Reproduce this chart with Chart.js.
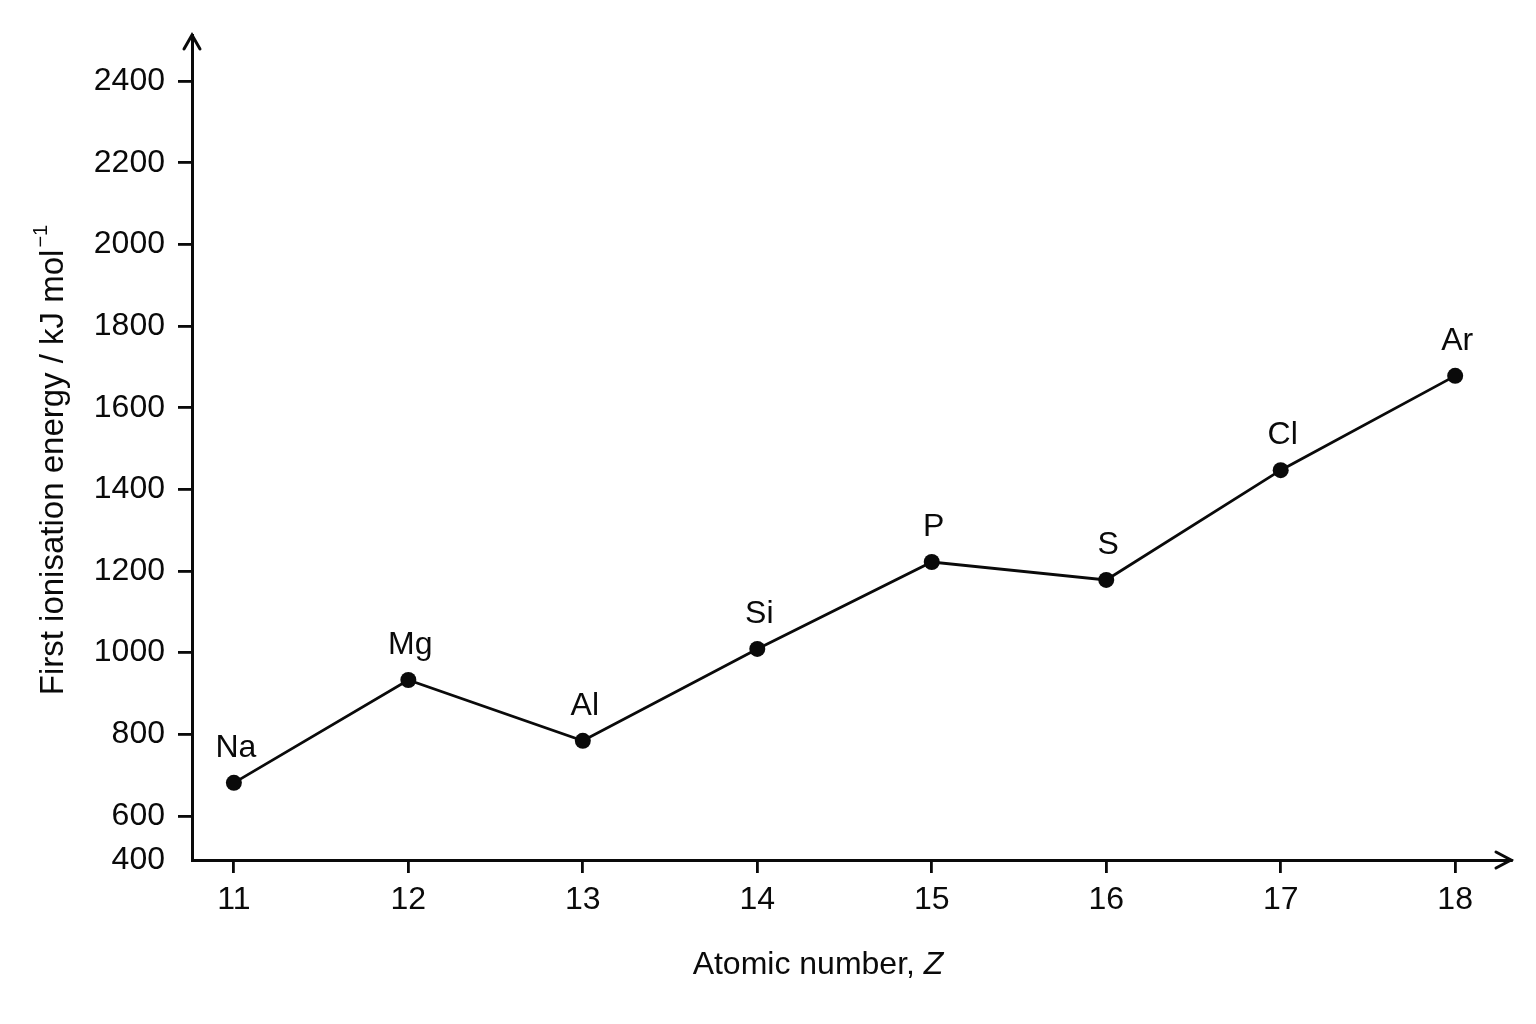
<!DOCTYPE html>
<html>
<head>
<meta charset="utf-8">
<title>First ionisation energy</title>
<script src="https://cdn.jsdelivr.net/npm/chart.js@4"></script>
<style>
  body { margin: 0; background: #fff; }
  #Graph1 { display: block; }
</style>
</head>
<body>
<canvas id="Graph1" width="1536" height="1024"></canvas>
<script>
// data
const atomicNumbers = [11, 12, 13, 14, 15, 16, 17, 18];
const symbols = ['Na', 'Mg', 'Al', 'Si', 'P', 'S', 'Cl', 'Ar'];
const energies = [681, 933, 784, 1009, 1222, 1178, 1447, 1678];

// y axis is broken: "400" sits at the origin, the scale is linear from 600 up
const yTickValues = [600, 800, 1000, 1200, 1400, 1600, 1800, 2000, 2200, 2400];
const yTickLabels = ['400', '600', '800', '1000', '1200', '1400', '1600', '1800', '2000', '2200', '2400'];
const yAxisMin = 492;
const yAxisMax = 2513;
const xAxisMin = 10.76;
const xAxisMax = 18.32;

const ink = '#0a0a0a';
const fontFamily = '"Liberation Sans", Arial, sans-serif';

Chart.defaults.font.family = fontFamily;
Chart.defaults.color = ink;

let points = [];
atomicNumbers.forEach((z, i) => points.push({ x: z, y: energies[i] }));

// symbols above each point
const pointLabels = {
    id: 'pointLabels',
    afterDatasetsDraw(chart) {
        const ctx = chart.ctx;
        ctx.save();
        ctx.font = '32px ' + fontFamily;
        ctx.fillStyle = ink;
        ctx.textAlign = 'center';
        ctx.textBaseline = 'middle';
        chart.getDatasetMeta(0).data.forEach((el, i) => {
            ctx.fillText(symbols[i], el.x + 2, el.y - 35);
        });
        ctx.restore();
    }
};

// arrow heads and axis titles
const axisExtras = {
    id: 'axisExtras',
    afterDraw(chart) {
        const ctx = chart.ctx;
        const a = chart.chartArea;
        ctx.save();
        ctx.strokeStyle = ink;
        ctx.lineWidth = 3;
        ctx.lineCap = 'round';
        ctx.lineJoin = 'miter';

        ctx.beginPath();
        ctx.moveTo(a.left - 8, a.top + 14);
        ctx.lineTo(a.left, a.top);
        ctx.lineTo(a.left + 8, a.top + 14);
        ctx.stroke();

        ctx.beginPath();
        ctx.moveTo(a.right - 15, a.bottom - 8);
        ctx.lineTo(a.right, a.bottom);
        ctx.lineTo(a.right - 15, a.bottom + 8);
        ctx.stroke();

        // x title with italic Z
        ctx.fillStyle = ink;
        ctx.textBaseline = 'middle';
        ctx.textAlign = 'left';
        const normal = '32px ' + fontFamily;
        const italic = 'italic 32px ' + fontFamily;
        ctx.font = normal;
        const w1 = ctx.measureText('Atomic number, ').width;
        ctx.font = italic;
        const w2 = ctx.measureText('Z').width;
        let x0 = 818 - (w1 + w2) / 2;
        ctx.font = normal;
        ctx.fillText('Atomic number, ', x0, 965);
        ctx.font = italic;
        ctx.fillText('Z', x0 + w1, 965);

        // y title, rotated, with superscript
        const titleFont = '33px ' + fontFamily;
        const supFont = '20px ' + fontFamily;
        ctx.translate(63, 460);
        ctx.rotate(-Math.PI / 2);
        ctx.textBaseline = 'alphabetic';
        const main = 'First ionisation energy / kJ mol';
        const sup = '\u22121';
        ctx.font = titleFont;
        const m1 = ctx.measureText(main).width;
        ctx.font = supFont;
        const m2 = ctx.measureText(sup).width;
        let y0 = -(m1 + m2 + 2) / 2;
        ctx.font = titleFont;
        ctx.fillText(main, y0, 0);
        ctx.font = supFont;
        ctx.fillText(sup, y0 + m1 + 2, -16);
        ctx.restore();
    }
};

new Chart(document.getElementById('Graph1'), {
    type: 'line',
    data: {
        datasets: [{
            label: 'First ionisation energy',
            data: points,
            borderColor: ink,
            borderWidth: 2.8,
            pointBackgroundColor: ink,
            pointBorderColor: ink,
            pointRadius: 8,
            pointBorderWidth: 0,
            tension: 0,
            fill: false
        }]
    },
    options: {
        responsive: false,
        animation: false,
        devicePixelRatio: 1,
        layout: {
            padding: { left: 0, top: 35, right: 25, bottom: 0 }
        },
        plugins: {
            legend: { display: false },
            tooltip: { enabled: false }
        },
        scales: {
            x: {
                type: 'linear',
                min: xAxisMin,
                max: xAxisMax,
                afterBuildTicks: scale => {
                    scale.ticks = atomicNumbers.map(v => ({ value: v }));
                },
                afterFit: scale => { scale.height = 164; },
                grid: {
                    display: true,
                    drawOnChartArea: false,
                    drawTicks: true,
                    tickLength: 13,
                    color: ink,
                    lineWidth: 2.8
                },
                border: { display: true, color: ink, width: 3 },
                ticks: {
                    padding: 8,
                    maxRotation: 0,
                    autoSkip: false,
                    font: { size: 32 },
                    color: ink,
                    callback: value => String(value)
                }
            },
            y: {
                type: 'linear',
                min: yAxisMin,
                max: yAxisMax,
                afterBuildTicks: scale => {
                    scale.ticks = [yAxisMin].concat(yTickValues).map(v => ({ value: v }));
                },
                afterFit: scale => { scale.width = 192; },
                grid: {
                    display: true,
                    drawOnChartArea: false,
                    drawTicks: true,
                    tickLength: 14,
                    color: ctx => ctx.index === 0 ? 'rgba(0,0,0,0)' : ink,
                    lineWidth: 2.8
                },
                border: { display: true, color: ink, width: 3 },
                ticks: {
                    padding: 13,
                    autoSkip: false,
                    font: { size: 32 },
                    color: ink,
                    callback: (value, index) => yTickLabels[index]
                }
            }
        }
    },
    plugins: [pointLabels, axisExtras]
});
</script>
</body>
</html>
